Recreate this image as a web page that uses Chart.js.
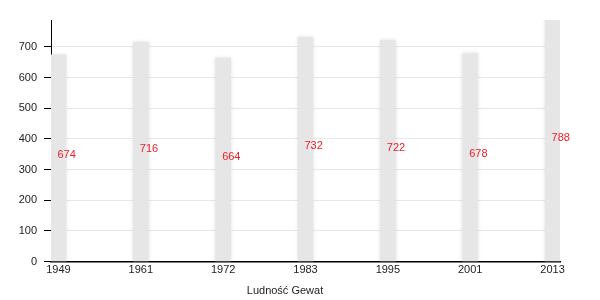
<!DOCTYPE html>
<html>
<head>
<meta charset="utf-8">
<script src="https://cdn.jsdelivr.net/npm/chart.js@4"></script>
<style>
  html, body { margin: 0; padding: 0; background: #fff; }
  #wrap { width: 600px; height: 300px; }
</style>
</head>
<body>
<div id="wrap"><canvas id="wykres"></canvas></div>
<script>
var lata = ["1949", "1961", "1972", "1983", "1995", "2001", "2013"];
var ludnosc = [674, 716, 664, 732, 722, 678, 788];
var podzialkaY = [0, 100, 200, 300, 400, 500, 600, 700];
var tytul = "Ludność Gewat";

Chart.defaults.font.family = "'Liberation Sans', Arial, sans-serif";
Chart.defaults.font.size = 11;

// cien pod slupkami
var cien = {
	id: 'cien',
	beforeDatasetsDraw: function(chart) {
		var ctx = chart.ctx;
		ctx.save();
		ctx.shadowColor = 'rgba(0,0,0,0.12)';
		ctx.shadowBlur = 4;
	},
	afterDatasetsDraw: function(chart) {
		chart.ctx.restore();
	}
};

// liczby na slupkach
var etykiety = {
	id: 'etykiety',
	afterDatasetsDraw: function(chart) {
		var ctx = chart.ctx;
		var meta = chart.getDatasetMeta(0);
		ctx.save();
		ctx.fillStyle = '#ee1c25';
		ctx.font = "11px 'Liberation Sans', Arial, sans-serif";
		ctx.textAlign = 'left';
		ctx.textBaseline = 'alphabetic';
		meta.data.forEach(function(bar, i) {
			ctx.fillText(String(ludnosc[i]), bar.x - 1, (bar.y + bar.base) / 2);
		});
		ctx.restore();
	}
};

var ctx = document.getElementById("wykres");
var dane = {
	datasets: [{
		data: ludnosc.map(function(v, i) { return { x: i, y: v }; }),
		backgroundColor: '#e6e6e6',
		borderWidth: 0,
		barThickness: 15
	}]
};

new Chart(ctx, {
	type: 'bar',
	data: dane,
	options: {
		responsive: true,
		maintainAspectRatio: false,
		animation: false,
		layout: { padding: { left: 0, right: 30, top: 20, bottom: 2 } },
		plugins: {
			legend: { display: false },
			tooltip: { enabled: false },
			title: {
				display: true,
				text: tytul,
				position: 'bottom',
				color: '#222',
				font: { size: 11, weight: 'normal' },
				padding: { top: 6, bottom: 0 }
			}
		},
		scales: {
			x: {
				type: 'linear',
				offset: false,
				min: -0.09,
				max: lata.length - 1 + 0.09,
				afterBuildTicks: function(scale) {
					scale.ticks = lata.map(function(l, i) { return { value: i }; });
				},
				ticks: {
					color: '#222',
					padding: 2,
					maxRotation: 0,
					autoSkip: false,
					callback: function(v) { return lata[v]; }
				},
				grid: { display: false, drawTicks: false },
				border: { display: true, color: '#000', width: 1.5 }
			},
			y: {
				min: 0,
				max: 788,
				afterBuildTicks: function(scale) {
					scale.ticks = podzialkaY.map(function(v) { return { value: v }; });
				},
				afterFit: function(scale) { scale.width = 51; },
				ticks: { color: '#222', padding: 7 },
				grid: { color: '#e8e8e8', tickColor: '#000', tickLength: 7 },
				border: { display: true, color: '#000', width: 1 }
			},
			prawa: {
				position: 'right',
				display: true,
				afterFit: function(scale) { scale.width = 10; },
				ticks: { display: false },
				grid: { display: false, drawTicks: false },
				border: { display: false }
			}
		}
	},
	plugins: [cien, etykiety]
});
</script>
</body>
</html>
